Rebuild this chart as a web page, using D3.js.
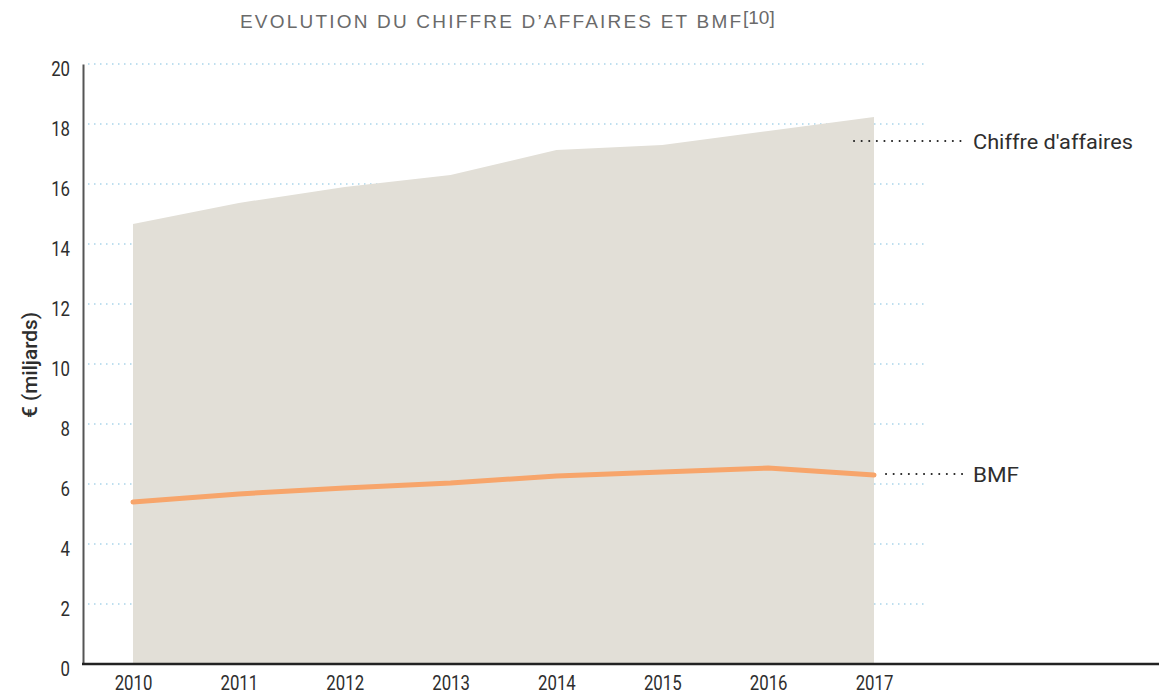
<!DOCTYPE html>
<html lang="fr">
<head>
    <meta charset="UTF-8">
    <title>Evolution du chiffre d'affaires et BMF</title>
    <script src="https://d3js.org/d3.v7.min.js"></script>
    <style>
        body {
            margin: 0;
            padding: 0;
            background: #fff;
        }
        svg {
            display: block;
        }
        .tick-label {
            font-family: Roboto, "Liberation Sans", sans-serif;
            font-size: 21px;
            fill: #2e2e2e;
        }
        .title {
            font-family: "Liberation Sans", Arial, sans-serif;
            font-size: 19px;
            fill: #6a6a6a;
        }
    </style>
</head>
<body>
    <svg width="1159" height="694"></svg>

    <script>
        const years = [2010, 2011, 2012, 2013, 2014, 2015, 2016, 2017];
        const chiffreAffaires = [14.67, 15.37, 15.9, 16.3, 17.13, 17.3, 17.77, 18.23];
        const bmf = [5.4, 5.67, 5.87, 6.03, 6.27, 6.4, 6.53, 6.3];
        const yTicks = [0, 2, 4, 6, 8, 10, 12, 14, 16, 18, 20];

        const squeeze = 0.8; // la police d'origine est condensée

        const svg = d3.select("svg");

        const x = d3.scaleLinear()
            .domain([2010, 2017])
            .range([133, 874]);

        const y = d3.scaleLinear()
            .domain([0, 20])
            .range([664, 64]);

        // titre
        svg.append("text")
            .attr("class", "title")
            .attr("x", 240)
            .attr("y", 28)
            .attr("textLength", 501)
            .attr("lengthAdjust", "spacing")
            .text("EVOLUTION DU CHIFFRE D\u2019AFFAIRES ET BMF");
        svg.append("text")
            .attr("class", "title")
            .attr("x", 743)
            .attr("y", 24)
            .attr("font-size", 11)
            .text("[10]");

        // grille pointillée
        svg.append("g")
            .selectAll("line")
            .data(yTicks.filter(d => d > 0))
            .enter()
            .append("line")
            .attr("x1", 88)
            .attr("x2", 925)
            .attr("y1", d => y(d))
            .attr("y2", d => y(d))
            .attr("stroke", "#7fbfe0")
            .attr("stroke-width", 1.2)
            .attr("stroke-dasharray", "1.5,4.5");

        // aire chiffre d'affaires
        const caData = years.map((yr, i) => ({ year: yr, value: chiffreAffaires[i] }));
        svg.append("path")
            .datum(caData)
            .attr("fill", "#e2dfd7")
            .attr("d", d3.area()
                .x(d => x(d.year))
                .y0(y(0))
                .y1(d => y(d.value))
            );

        // ligne BMF
        const bmfData = years.map((yr, i) => ({ year: yr, value: bmf[i] }));
        svg.append("path")
            .datum(bmfData)
            .attr("fill", "none")
            .attr("stroke", "#f7a56b")
            .attr("stroke-width", 5)
            .attr("stroke-linecap", "round")
            .attr("d", d3.line()
                .x(d => x(d.year))
                .y(d => y(d.value))
            );

        // axe Y
        const yAxis = svg.append("g")
            .attr("transform", "translate(83,0)")
            .call(d3.axisLeft(y).tickValues(yTicks).tickSize(0));
        yAxis.select(".domain").attr("stroke", "#555").attr("stroke-width", 2);
        yAxis.selectAll("text")
            .attr("class", "tick-label")
            .attr("x", -13 / squeeze)
            .attr("dy", "0.55em")
            .attr("transform", `scale(${squeeze},1)`);

        // axe X
        const xAxis = svg.append("g")
            .attr("transform", `translate(0,${y(0)})`)
            .call(d3.axisBottom(x).tickValues(years).tickFormat(d3.format("d")).tickSize(0).tickPadding(9));
        xAxis.select(".domain").remove();
        xAxis.append("line")
            .attr("x1", 82)
            .attr("x2", 1159)
            .attr("stroke", "#222")
            .attr("stroke-width", 2.5);
        xAxis.selectAll("text")
            .attr("class", "tick-label")
            .attr("dy", "0.8em")
            .attr("transform", `scale(${squeeze},1)`);

        // titre axe Y
        svg.append("text")
            .attr("class", "tick-label")
            .attr("transform", "translate(37,365) rotate(-90)")
            .attr("text-anchor", "middle")
            .attr("fill", "#111")
            .attr("font-weight", 500)
            .attr("textLength", 106)
            .attr("lengthAdjust", "spacingAndGlyphs")
            .text("€ (miljards)");

        // étiquettes des séries
        const labels = [
            { text: "Chiffre d'affaires", x1: 854, yv: 141, len: 160 },
            { text: "BMF", x1: 886, yv: 474, len: 46 }
        ];
        labels.forEach(l => {
            svg.append("line")
                .attr("x1", l.x1)
                .attr("x2", 964)
                .attr("y1", l.yv)
                .attr("y2", l.yv)
                .attr("stroke", "#222")
                .attr("stroke-width", 2)
                .attr("stroke-linecap", "round")
                .attr("stroke-dasharray", "0.1,7.5");
            svg.append("text")
                .attr("class", "tick-label")
                .attr("x", 973)
                .attr("y", l.yv)
                .attr("dy", "0.36em")
                .attr("font-size", 22)
                .attr("fill", "#222")
                .attr("textLength", l.len)
                .attr("lengthAdjust", "spacingAndGlyphs")
                .text(l.text);
        });
    </script>
</body>
</html>
